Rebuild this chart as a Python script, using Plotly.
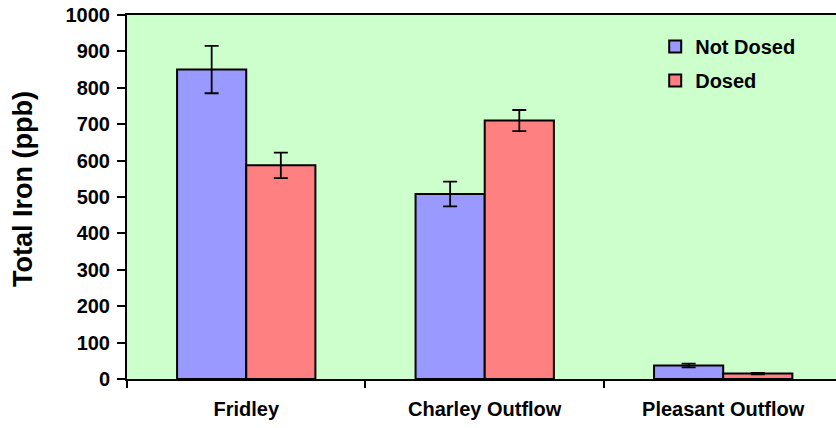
import plotly.graph_objects as go

sites = ["Fridley", "Charley Outflow", "Pleasant Outflow"]
not_dosed = [850, 508, 37]
not_dosed_err = [65, 34, 5]
dosed = [587, 710, 15]
dosed_err = [35, 29, 2]

font_family = "Liberation Sans, Arial, sans-serif"

fig = go.Figure()
fig.add_trace(go.Bar(
    name="Not Dosed", x=sites, y=not_dosed,
    marker=dict(color="#9999FF", line=dict(color="black", width=2)),
    error_y=dict(type="data", array=not_dosed_err, color="black", thickness=1.8, width=7),
    legendgroup="a",
))
fig.add_trace(go.Bar(
    name="Dosed", x=sites, y=dosed,
    marker=dict(color="#FF8080", line=dict(color="black", width=2)),
    error_y=dict(type="data", array=dosed_err, color="black", thickness=1.8, width=7),
    legendgroup="b",
))

fig.update_layout(
    width=836, height=428,
    margin=dict(l=127, r=0, t=15, b=49),
    paper_bgcolor="white",
    plot_bgcolor="#CCFFCC",
    barmode="group", bargap=0.42, bargroupgap=0,
    font=dict(family=font_family, color="black"),
    showlegend=True,
    legend=dict(
        x=0.745, y=0.967, xanchor="left", yanchor="top",
        bgcolor="rgba(0,0,0,0)",
        font=dict(size=20, family=font_family, weight="bold"),
        traceorder="grouped", tracegroupgap=5,
        itemwidth=30,
    ),
    annotations=[dict(
        text="Total Iron (ppb)", textangle=-90,
        xref="paper", yref="paper",
        x=(23 - 127) / 709, y=0.522, xanchor="center", yanchor="middle",
        showarrow=False,
        font=dict(size=27, family=font_family, weight="bold", color="black"),
    )],
)

fig.update_xaxes(
    range=[-0.5, 2.473],
    showline=True, linecolor="black", linewidth=2, mirror=True,
    ticks="outside", tickson="boundaries", ticklen=7, tickwidth=2, tickcolor="black",
    showgrid=False, automargin=False, ticklabelstandoff=11,
    tickfont=dict(size=20, family=font_family, weight="bold"),
)
fig.update_yaxes(
    range=[0, 1000], dtick=100,
    showline=True, linecolor="black", linewidth=2, mirror=True,
    ticks="outside", ticklen=8, tickwidth=2, tickcolor="black",
    showgrid=False, zeroline=False, automargin=False, ticklabelstandoff=3,
    tickfont=dict(size=20, family=font_family, weight="bold"),
)

fig.write_html("out.html")
